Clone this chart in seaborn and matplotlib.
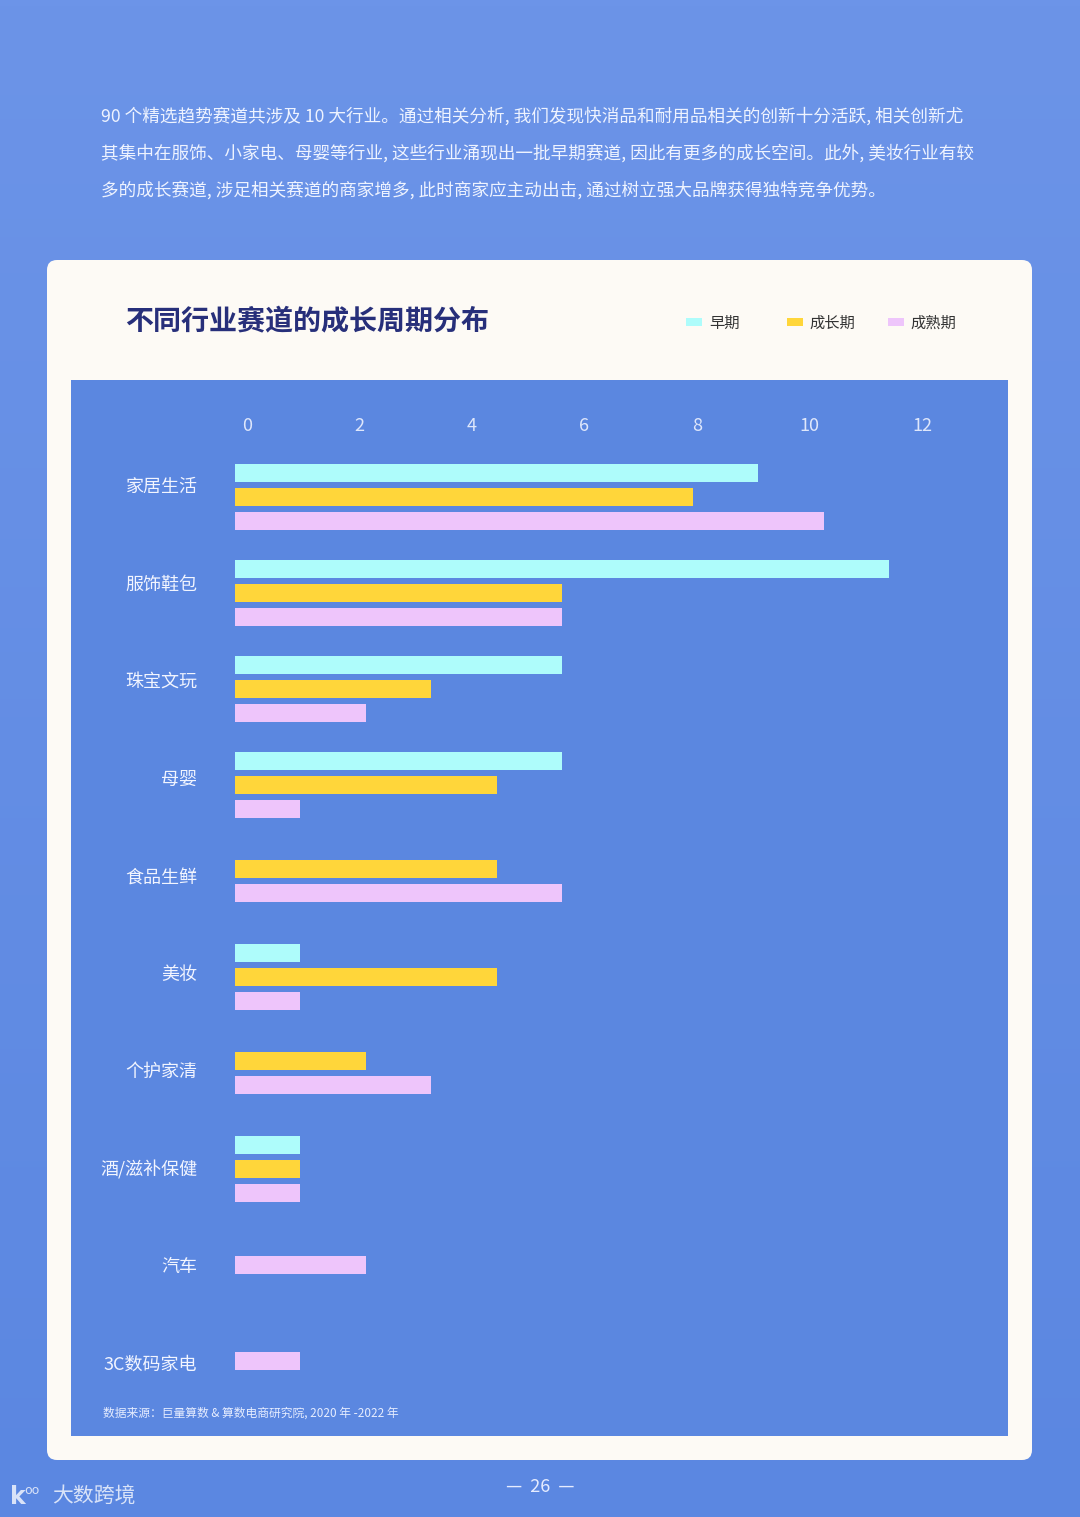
import numpy as np
import pandas as pd
import matplotlib
matplotlib.use("Agg")
import matplotlib.pyplot as plt
import seaborn as sns
from matplotlib.patches import FancyBboxPatch, Rectangle
from matplotlib.colors import LinearSegmentedColormap

# ---------------- data ----------------
categories = ["家居生活", "服饰鞋包", "珠宝文玩", "母婴", "食品生鲜",
              "美妆", "个护家清", "酒/滋补保健", "汽车", "3C数码家电"]
series_names = ["早期", "成长期", "成熟期"]
early = [8, 10, 5, 5, 0, 1, 0, 1, 0, 0]
growth = [7, 5, 3, 4, 4, 4, 2, 1, 0, 0]
mature = [9, 5, 2, 1, 5, 1, 3, 1, 2, 1]
top_tick_values = [0, 2, 4, 6, 8, 10, 12]
top_tick_labels = ["0", "2", "4", "6", "8", "10", "12"]
colors = ["#aefcfb", "#ffd63a", "#eec5fb"]

title = "不同行业赛道的成长周期分布"
paragraph = [
    "90 个精选趋势赛道共涉及 10 大行业。通过相关分析, 我们发现快消品和耐用品相关的创新十分活跃, 相关创新尤",
    "其集中在服饰、小家电、母婴等行业, 这些行业涌现出一批早期赛道, 因此有更多的成长空间。此外, 美妆行业有较",
    "多的成长赛道, 涉足相关赛道的商家增多, 此时商家应主动出击, 通过树立强大品牌获得独特竞争优势。",
]
source = "数据来源：巨量算数 & 算数电商研究院, 2020 年 -2022 年"

# long table: zero values are not drawn, remaining bars centred in their group
rows = []
for gi, cat in enumerate(categories):
    vals = [(s, v) for s, v in zip(series_names, (early[gi], growth[gi], mature[gi])) if v > 0]
    n = len(vals)
    for k, (s, v) in enumerate(vals):
        rows.append(dict(category=cat, series=s, value=v, pos=gi * 4 + (k - (n - 1) / 2)))
df = pd.DataFrame(rows)

# ---------------- style ----------------
sns.set_style("white")
plt.rcParams["font.family"] = ["Noto Sans CJK SC", "DejaVu Sans"]

W, H = 1080, 1517
fig = plt.figure(figsize=(W / 100, H / 100), dpi=100)

# background axes in pixel coordinates
bg = fig.add_axes([0, 0, 1, 1], zorder=-10)
bg.set_xlim(0, W)
bg.set_ylim(H, 0)
bg.axis("off")
grad = np.linspace(0, 1, 256).reshape(-1, 1)
cmap = LinearSegmentedColormap.from_list("bgc", ["#6c94e8", "#5b87e1"])
bg.imshow(grad, cmap=cmap, extent=[0, W, H, 0], aspect="auto", zorder=0)
card = FancyBboxPatch((47, 260), 985, 1200, boxstyle="round,pad=0,rounding_size=10",
                      facecolor="#fdfaf5", edgecolor="none", zorder=1)
bg.add_patch(card)
bg.add_patch(Rectangle((71, 380), 937, 1056, facecolor="#5b87e0", edgecolor="none", zorder=2))

def fx(x):
    return x / W

def fy(y):
    return 1 - y / H

# paragraph
for i, line in enumerate(paragraph):
    fig.text(fx(101), fy(116 + 37 * i), line, fontsize=12.7, color="#eef3ff",
             va="center", ha="left")

# title
fig.text(fx(125), fy(322), title, fontsize=20.2, fontweight="bold", color="#272f7a",
         va="center", ha="left")

# ---------------- main bars ----------------
ax = fig.add_axes([fx(235), fy(1400), (1008 - 235) / W, (1400 - 440) / H])
ax.patch.set_alpha(0)
sns.barplot(data=df, x="value", y="pos", hue="series", hue_order=series_names,
            palette=colors, orient="h", native_scale=True, dodge=False,
            width=0.75, saturation=1, linewidth=0, ax=ax, legend=True)
unit = 65.4
ax.set_xlim(0, (1008 - 235) / unit)
ax.set_ylim((1400 - 497) / 24, (440 - 497) / 24)
# category labels sit on a slightly wider grid than the bar groups (as in the original)
ax.set_yticks([-0.5 + gi * 4 * 97.56 / 96 for gi in range(len(categories))])
ax.set_yticklabels(categories, fontsize=13, color="#f2f5ff")
ax.tick_params(axis="y", length=0, pad=27)
ax.set_xticks([])
ax.set_xlabel("")
ax.set_ylabel("")
for s in ax.spines.values():
    s.set_visible(False)

handles, labels = ax.get_legend_handles_labels()
if ax.get_legend() is not None:
    ax.get_legend().remove()

# top tick axis
ax2 = ax.twiny()
ax2.set_xlim((235 - 247) / 56.25, (1008 - 247) / 56.25)
ax2.set_xticks(top_tick_values)
ax2.set_xticklabels(top_tick_labels, fontsize=13, color="#dfe7fb")
ax2.tick_params(axis="x", length=0, pad=3.5)
for s in ax2.spines.values():
    s.set_visible(False)
ax2.patch.set_alpha(0)

# legend, one item at a time
for i, (h, l) in enumerate(zip(handles, labels)):
    fig.legend([h], [l], loc="center left",
               bbox_to_anchor=(fx(686 + 101 * i), fy(323)),
               frameon=False, fontsize=11, handlelength=1.05, handleheight=0.5,
               handletextpad=0.45, borderpad=0, borderaxespad=0,
               labelcolor="#333333")

# footer
fig.text(fx(103), fy(1413), source, fontsize=8.5, color="#e6edff", va="center", ha="left")
fig.text(fx(540), fy(1487), "—  26  —", fontsize=13, color="#e6ecff", va="center", ha="center")
fig.text(fx(10), fy(1497), "k", fontsize=17, fontweight="bold", color="#d9e3f8",
         va="center", ha="left", family=["DejaVu Sans"])
fig.text(fx(24), fy(1491), "oo", fontsize=9, color="#d9e3f8", va="center", ha="left",
         family=["DejaVu Sans"])
fig.text(fx(52), fy(1497), "大数跨境", fontsize=15, color="#d9e3f8", va="center", ha="left")

fig.savefig("out.png", dpi=100)
